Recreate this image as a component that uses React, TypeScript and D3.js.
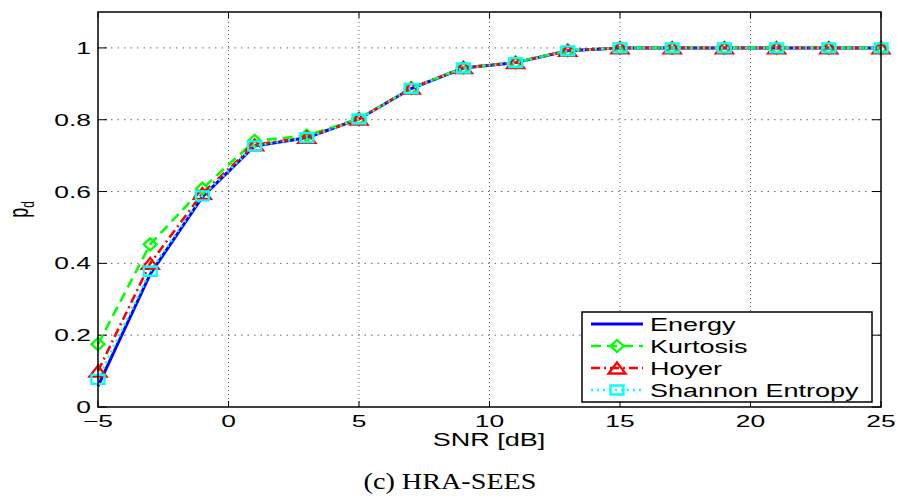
import React from 'react';
import * as d3 from 'd3';

const snr = [-5, -3, -1, 1, 3, 5, 7, 9, 11, 13, 15, 17, 19, 21, 23, 25];
const energy = [0.058, 0.37, 0.585, 0.727, 0.75, 0.802, 0.887, 0.944, 0.959, 0.992, 1, 1, 1, 1, 1, 1];
const kurtosis = [0.175, 0.453, 0.608, 0.741, 0.756, 0.803, 0.888, 0.945, 0.96, 0.993, 1, 1, 1, 1, 1, 1];
const hoyer = [0.1, 0.4, 0.595, 0.73, 0.751, 0.802, 0.888, 0.945, 0.959, 0.993, 1, 1, 1, 1, 1, 1];
const shannon = [0.077, 0.378, 0.588, 0.727, 0.75, 0.802, 0.887, 0.944, 0.959, 0.992, 1, 1, 1, 1, 1, 1];
const xTicks = [-5, 0, 5, 10, 15, 20, 25];
const yTicks = [0, 0.2, 0.4, 0.6, 0.8, 1];
const seriesNames = ['Energy', 'Kurtosis', 'Hoyer', 'Shannon Entropy'];

const W = 897, H = 499;
const L = 98, R = 881, T = 12, B = 407;
const SX = 1.5;
const FONT = '"Liberation Sans", Arial, Helvetica, sans-serif';

type Marker = 'none' | 'diamond' | 'triangle' | 'square';
const styles: { color: string; dash: string; marker: Marker }[] = [
  { color: '#0000ff', dash: '', marker: 'none' },
  { color: '#00ff00', dash: '10,6', marker: 'diamond' },
  { color: '#ff0000', dash: '9,4,2,4', marker: 'triangle' },
  { color: '#00ffff', dash: '2,4', marker: 'square' },
];

function markerPath(m: Marker, cx: number, cy: number): string {
  if (m === 'diamond') {
    const w = 6.5, h = 6;
    return `M${cx},${cy - h}L${cx + w},${cy}L${cx},${cy + h}L${cx - w},${cy}Z`;
  }
  if (m === 'triangle') {
    const w = 8.5, h = 5.5;
    return `M${cx},${cy - h}L${cx + w},${cy + h}L${cx - w},${cy + h}Z`;
  }
  if (m === 'square') {
    const w = 6.5, h = 4.5;
    return `M${cx - w},${cy - h}H${cx + w}V${cy + h}H${cx - w}Z`;
  }
  return '';
}

function SText(props: { x: number; y: number; anchor?: string; size: number; children: React.ReactNode; sx?: number; family?: string }) {
  const { x, y, anchor = 'start', size, children, sx = SX, family = FONT } = props;
  return (
    <text transform={`translate(${x},${y}) scale(${sx},1)`} textAnchor={anchor} fontSize={size} fontFamily={family} fill="#000">
      {children}
    </text>
  );
}

export default function App() {
  const x = d3.scaleLinear().domain([-5, 25]).range([L, R]);
  const y = d3.scaleLinear().domain([0, 1.1]).range([B, T]);
  const data = [energy, kurtosis, hoyer, shannon];
  const line = d3.line<number>().x((_, i) => x(snr[i])).y((d) => y(d));

  const legX = 582, legY = 312, legW = 290, legH = 90;
  const rowY = [324, 346, 368, 390];

  return (
    <div style={{ position: 'absolute', left: 0, top: 0 }}>
      <svg width={W} height={H} style={{ display: 'block', background: '#fff' }}>
        <rect x={0} y={0} width={W} height={H} fill="#fff" />
        {/* grid */}
        {xTicks.filter((t) => t !== -5 && t !== 25).map((t) => (
          <line key={'gx' + t} x1={x(t)} x2={x(t)} y1={B} y2={T} stroke="#666" strokeWidth={1} strokeDasharray="1,3" />
        ))}
        {yTicks.filter((t) => t !== 0).map((t) => (
          <line key={'gy' + t} x1={L} x2={R} y1={y(t)} y2={y(t)} stroke="#666" strokeWidth={1} strokeDasharray="1.5,5" />
        ))}
        {/* ticks */}
        {xTicks.map((t) => (
          <g key={'tx' + t}>
            <line x1={x(t)} x2={x(t)} y1={B} y2={B - 6} stroke="#000" strokeWidth={1} />
            <line x1={x(t)} x2={x(t)} y1={T} y2={T + 6} stroke="#000" strokeWidth={1} />
          </g>
        ))}
        {yTicks.map((t) => (
          <g key={'ty' + t}>
            <line x1={L} x2={L + 9} y1={y(t)} y2={y(t)} stroke="#000" strokeWidth={1} />
            <line x1={R} x2={R - 9} y1={y(t)} y2={y(t)} stroke="#000" strokeWidth={1} />
          </g>
        ))}
        {/* series */}
        {data.map((d, k) => (
          <g key={'s' + k}>
            <path d={line(d) || ''} fill="none" stroke={styles[k].color} strokeWidth={k === 0 ? 3 : 2.6} strokeDasharray={styles[k].dash || undefined} />
            {styles[k].marker !== 'none' && d.map((v, i) => (
              <path key={i} d={markerPath(styles[k].marker, x(snr[i]), y(v))} fill="none" stroke={styles[k].color} strokeWidth={2.3} />
            ))}
          </g>
        ))}
        {/* frame */}
        <rect x={L} y={T} width={R - L} height={B - T} fill="none" stroke="#000" strokeWidth={1.5} />
        {/* tick labels */}
        {xTicks.map((t) => (
          <SText key={'lx' + t} x={x(t)} y={427} anchor="middle" size={16.5} sx={1.6}>
            {t < 0 ? '\u2212' + Math.abs(t) : String(t)}
          </SText>
        ))}
        {yTicks.map((t) => (
          <SText key={'ly' + t} x={91} y={y(t) + 6} anchor="end" size={16.5} sx={1.6}>
            {String(t)}
          </SText>
        ))}
        {/* axis labels */}
        <SText x={489} y={446} anchor="middle" size={18}>SNR [dB]</SText>
        <text transform={`translate(28,${(T + B) / 2}) scale(${SX},1) rotate(-90)`} textAnchor="middle" fontSize={18} fontFamily={FONT} fill="#000">
          p<tspan fontSize={12} dy={4}>d</tspan>
        </text>
        {/* legend */}
        <rect x={legX} y={legY} width={legW} height={legH} fill="#fff" stroke="#000" strokeWidth={1.5} />
        {seriesNames.map((n, k) => (
          <g key={'lg' + k}>
            <line x1={591} x2={643} y1={rowY[k]} y2={rowY[k]} stroke={styles[k].color} strokeWidth={k === 0 ? 3 : 2.6} strokeDasharray={styles[k].dash || undefined} />
            {styles[k].marker !== 'none' && (
              <path d={markerPath(styles[k].marker, 617, rowY[k])} fill="none" stroke={styles[k].color} strokeWidth={2.3} />
            )}
            <SText x={650} y={rowY[k] + 6.5} size={18} sx={1.5}>{n}</SText>
          </g>
        ))}
        {/* caption */}
        <SText x={450} y={489} anchor="middle" size={23.5} sx={1.2} family={'"Liberation Serif", "Times New Roman", serif'}>(c) HRA-SEES</SText>
      </svg>
    </div>
  );
}
